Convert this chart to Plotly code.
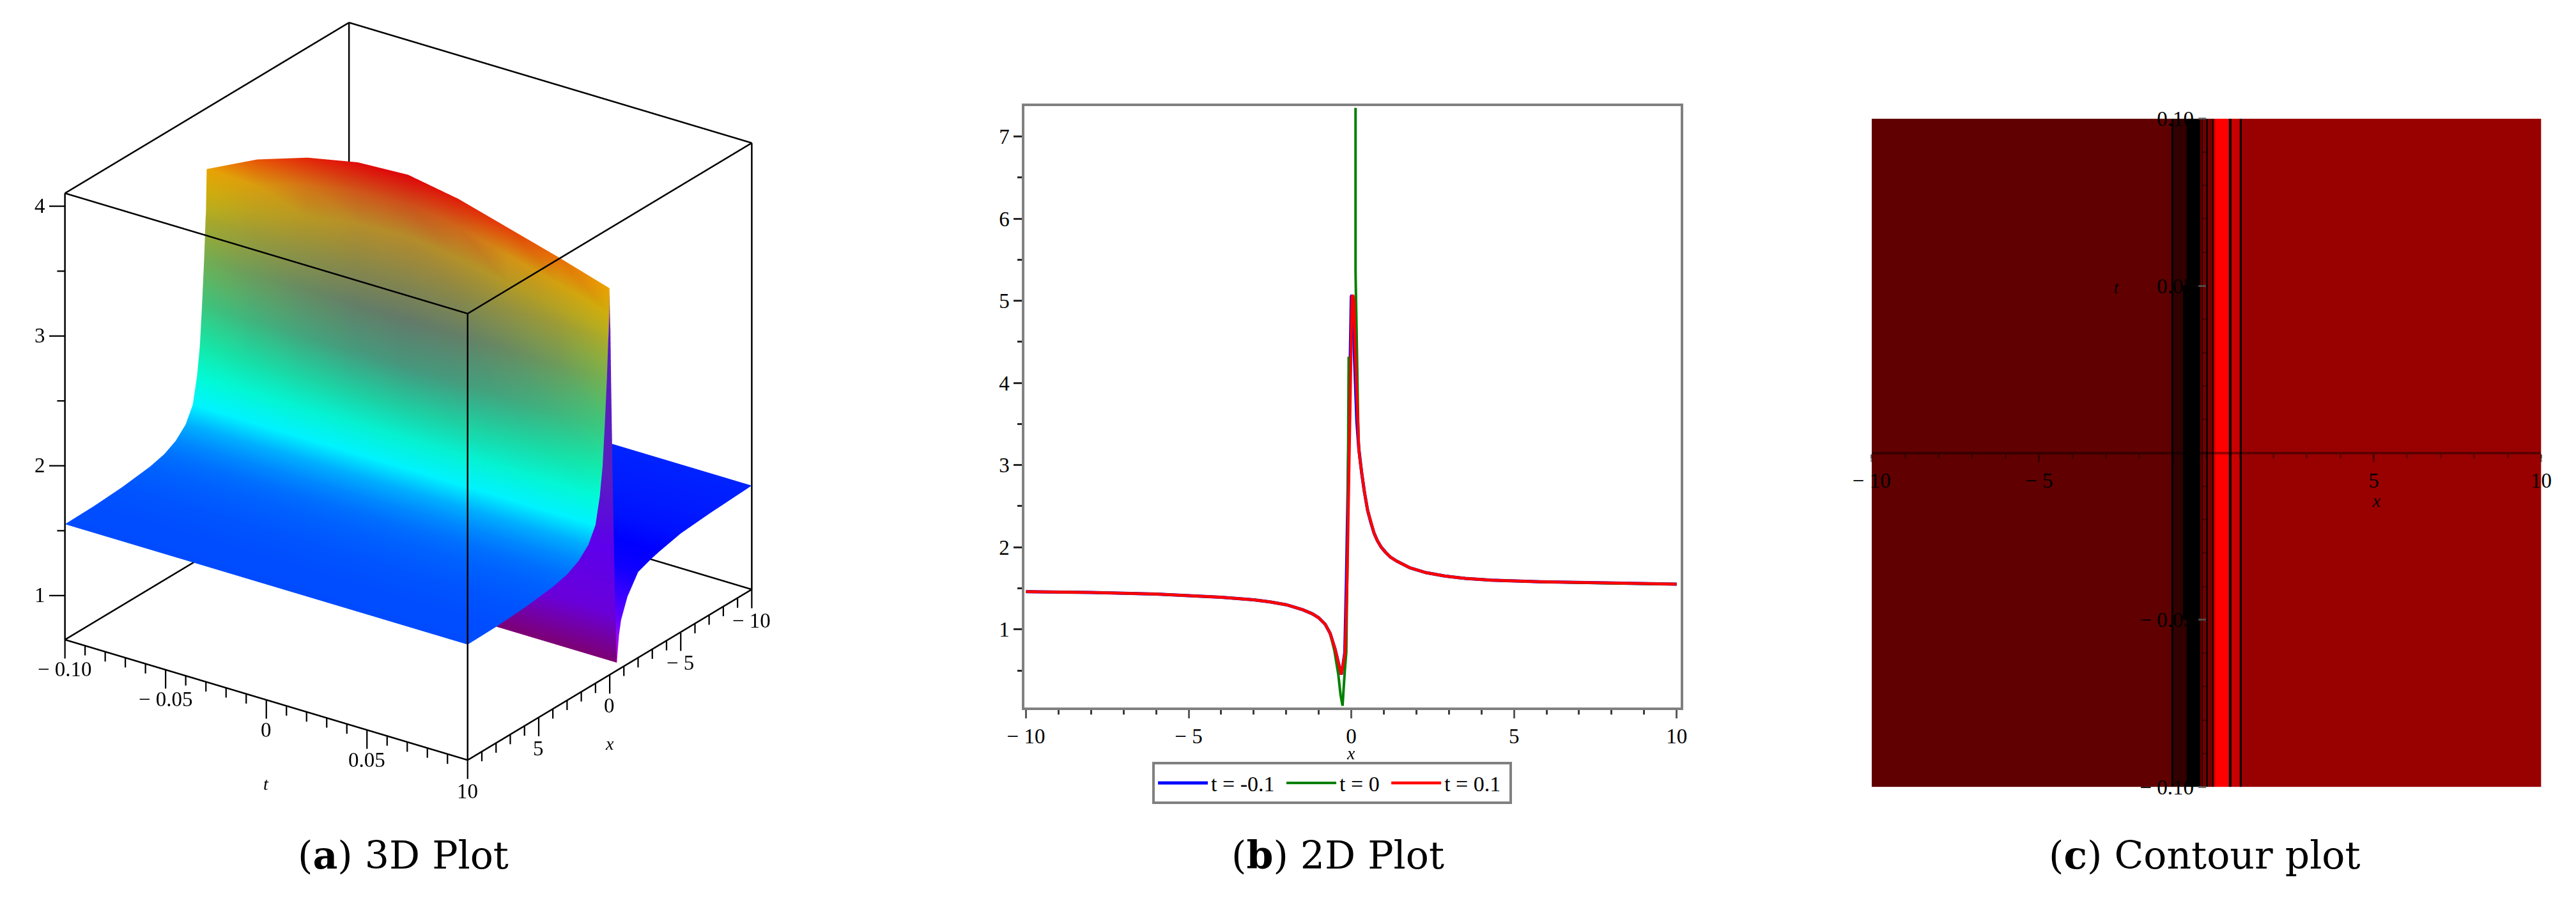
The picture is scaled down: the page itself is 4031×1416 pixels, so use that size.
import numpy as np
import plotly.graph_objects as go

W, H = 4031, 1416

# ---- panel a: surface ----
# x = -0.5 is listed twice: the valley colour differs on the two sides
surf_x_left = [-10, -7, -5, -3.5, -2.9, -2.0, -1.25, -0.8, -0.65, -0.5, -0.5, -0.4, -0.3, -0.2, -0.1, -0.05]
surf_z_left = [1.46, 1.44, 1.42, 1.38, 1.36, 1.32, 1.18, 1.03, 0.92, 0.72, 0.72, 1.1, 1.6, 2.2, 2.9, 3.3]
surf_x_right = [0.1, 0.2, 0.35, 0.5, 0.7, 1.0, 1.5, 2.2, 3, 4, 6, 8, 10]
surf_z_right = [3.25, 2.95, 2.6, 2.3, 2.08, 1.88, 1.76, 1.68, 1.63, 1.6, 1.57, 1.555, 1.55]
surf_t = [-0.1, -0.075, -0.05, -0.025, 0, 0.025, 0.05, 0.075, 0.1]
ridge_x = [0.02, 0.05, 0.075]
ridge_z = [3.63, 3.82, 3.95, 4.03, 4.05, 3.98, 3.87, 3.76, 3.64]
shoulder_z = [3.45, 3.62, 3.74, 3.81, 3.83, 3.77, 3.66, 3.56, 3.45]
foot_z = [3.3, 3.42, 3.5, 3.56, 3.58, 3.53, 3.45, 3.38, 3.3]

# greyish sheen on the wall: weight by column (x >= ridge) and by t row
haze_cols = [0.08, 0.22, 0.35, 0.5, 0.65, 0.5, 0.25, 0.08, 0, 0, 0, 0, 0, 0, 0, 0]
haze_rows = [0.35, 0.6, 0.8, 0.95, 1, 0.95, 0.8, 0.6, 0.3]
haze_rgb = (85, 80, 125)

x_lim = [-10, 10]
t_lim = [-0.1, 0.1]
z_lim = [0.66, 4.10]
x_major = [-10, -5, 0, 5, 10]
x_major_text = ["\u2212 10", "\u2212 5", "0", "5", "10"]
x_minor = [v for v in range(-10, 11) if v % 5 != 0]
t_major = [-0.1, -0.05, 0, 0.05]
t_major_text = ["\u2212 0.10", "\u2212 0.05", "0", "0.05"]
t_minor = [-0.09, -0.08, -0.07, -0.06, -0.04, -0.03, -0.02, -0.01, 0.01, 0.02, 0.03, 0.04, 0.06, 0.07, 0.08, 0.09]
z_major = [1, 2, 3, 4]
z_minor = [1.5, 2.5, 3.5]

# hue against height, as it shows on the upper side of the surface
hue_z = [0.66, 0.75, 1.0, 1.38, 1.55, 1.75, 1.9, 2.2, 2.7, 3.2, 3.5, 3.65, 3.85, 4.05]
hue_rgb = [(200, 0, 220), (225, 20, 240), (110, 0, 255), (0, 0, 255), (0, 75, 255),
           (0, 170, 255), (0, 255, 255), (0, 255, 190), (70, 215, 110), (180, 190, 30),
           (225, 180, 0), (240, 165, 0), (240, 70, 0), (235, 0, 0)]
# the stretch from valley to ridge is seen from below and is darker
under_z = [0.72, 1.0, 1.3, 1.7, 2.2, 3.3]
under_rgb = [(125, 0, 115), (105, 0, 200), (105, 0, 255), (90, 0, 230), (90, 30, 190), (90, 30, 190)]

# ---- panel b: curves ----
x_far_left = [-10, -8, -6, -5, -4, -3, -2.5, -2, -1.5, -1.2, -1, -0.8, -0.65]
y_far_left = [1.46, 1.45, 1.43, 1.41, 1.39, 1.36, 1.335, 1.30, 1.24, 1.19, 1.14, 1.06, 0.95]
x_far_right = [0.23, 0.27, 0.32, 0.4, 0.5, 0.6, 0.7, 0.8, 0.92, 1.05, 1.2, 1.4, 1.8, 2.3, 2.87, 3.5, 4.3, 5.8, 8, 10]
y_far_right = [3.2, 3.05, 2.9, 2.68, 2.45, 2.3, 2.17, 2.08, 2.0, 1.94, 1.88, 1.83, 1.75, 1.69, 1.65, 1.62, 1.6, 1.58, 1.56, 1.55]
x_plus_mid = [-0.5, -0.4, -0.31, -0.25, -0.19, -0.13, -0.08, -0.04, 0, 0.02, 0.05, 0.08, 0.12, 0.19]
y_plus_mid = [0.76, 0.6, 0.45, 0.58, 0.72, 1.6, 2.7, 3.53, 4.6, 5.05, 5.07, 5.0, 4.4, 3.53]
x_minus_mid = [-0.5, -0.4, -0.31, -0.25, -0.2, -0.15, -0.1, -0.06, -0.03, 0, 0.02, 0.05, 0.09, 0.17]
y_minus_mid = [0.76, 0.6, 0.45, 0.58, 0.72, 1.6, 2.7, 3.53, 4.6, 5.05, 5.07, 5.0, 4.4, 3.53]
x_zero_mid = [-0.52, -0.4, -0.33, -0.27, -0.2, -0.155, -0.12, -0.1, -0.08, None, 0.13, 0.13, 0.21]
y_zero_mid = [0.74, 0.45, 0.2, 0.07, 0.5, 0.72, 1.8, 3.0, 4.32, None, 7.35, 5.35, 3.53]
b_xticks = [-10, -5, 0, 5, 10]
b_xtext = ["\u2212 10", "\u2212 5", "0", "5", "10"]
b_yticks = [1, 2, 3, 4, 5, 6, 7]

# ---- panel c: contour bands, level of each band per t row ----
band_edges = [-10, -1.04, -0.98, -0.70, -0.585, -0.23, -0.19, -0.13, -0.11, 0, 0.04, 0.17, 0.21, 0.28, 0.68, 0.74, 1.0, 1.06, 10]
band_end_row = [2, 0, 1, 1, 0, 0, 2, 0, 3, 0, 3, 0, 5, 6, 0, 5, 0, 4]
band_mid_row = [2, 0, 1, 0, 0, 0, 2, 0, 3, 0, 3, 0, 5, 6, 0, 5, 0, 4]
band_t_edges = [-0.1, -0.085, -0.05, 0, 0.05, 0.085, 0.1]
band_levels = [0, 1, 2, 3, 4, 5, 6]
band_rgb = ["rgb(0,0,0)", "rgb(50,0,0)", "rgb(96,0,0)", "rgb(115,0,0)", "rgb(153,0,0)", "rgb(200,0,0)", "rgb(255,0,0)"]
c_xticks = [-10, -5, 5, 10]
c_xtext = ["\u2212 10", "\u2212 5", "5", "10"]
c_yticks = [-0.1, -0.05, 0.05, 0.1]
c_ytext = ["\u2212 0.10", "\u2212 0.05", "0.05", "0.10"]
caption_a = "(<b>a</b>) 3D Plot"
caption_b = "(<b>b</b>) 2D Plot"
caption_c = "(<b>c</b>) Contour plot"

SERIF = "Liberation Serif"
CAPTION = "DejaVu Serif"
fig = go.Figure()


def pick(z, zs, rgbs):
    return [float(np.interp(z, zs, [c[i] for c in rgbs])) for i in range(3)]


# surface as a mesh so each vertex can carry hue and sheen
surf_x = surf_x_left + ridge_x + surf_x_right
n_left = len(surf_x_left)
rows = [surf_z_left + [r, s, f] + surf_z_right for r, s, f in zip(ridge_z, shoulder_z, foot_z)]
vx, vy, vz, vc = [], [], [], []
for r, row in enumerate(rows):
    for c, z in enumerate(row):
        vx.append(surf_x[c])
        vy.append(surf_t[r])
        vz.append(z)
        if 10 <= c < n_left:
            col = pick(z, under_z, under_rgb)
        else:
            col = pick(z, hue_z, hue_rgb)
        if c >= n_left:
            a = haze_cols[c - n_left] * haze_rows[r]
            col = [(1 - a) * col[i] + a * haze_rgb[i] for i in range(3)]
        vc.append("rgb(%d,%d,%d)" % tuple(col))
ncol = len(surf_x)
tri_i, tri_j, tri_k = [], [], []
for r in range(len(rows) - 1):
    for c in range(ncol - 1):
        a = r * ncol + c
        tri_i += [a, a]
        tri_j += [a + 1, a + ncol + 1]
        tri_k += [a + ncol + 1, a + ncol]
fig.add_trace(go.Mesh3d(x=vx, y=vy, z=vz, i=tri_i, j=tri_j, k=tri_k, vertexcolor=vc, scene="scene",
                        flatshading=False, hoverinfo="skip", showscale=False,
                        lighting=dict(ambient=1.0, diffuse=0.0, specular=0.0, fresnel=0.0, roughness=1.0)))


def seg(a, b, out):
    for i in range(3):
        out[i] += [a[i], b[i], None]


# box edges
box = [[], [], []]
x0, x1 = x_lim
t0, t1 = t_lim
z0, z1 = z_lim
for z in z_lim:
    seg((x1, t0, z), (x1, t1, z), box)
    seg((x0, t0, z), (x0, t1, z), box)
    seg((x0, t0, z), (x1, t0, z), box)
    seg((x0, t1, z), (x1, t1, z), box)
for x in x_lim:
    for t in t_lim:
        seg((x, t, z0), (x, t, z1), box)
fig.add_trace(go.Scatter3d(x=box[0], y=box[1], z=box[2], mode="lines", scene="scene",
                           line=dict(color="black", width=5), hoverinfo="skip", showlegend=False))

# ticks: straight down on screen for t and x, straight left for z
major_drop, minor_drop = 0.145, 0.075
ticks = [[], [], []]
for t in t_major + [0.1]:
    seg((x1, t, z0), (x1, t, z0 - major_drop), ticks)
for t in t_minor:
    seg((x1, t, z0), (x1, t, z0 - minor_drop), ticks)
for x in x_major:
    seg((x, t1, z0), (x, t1, z0 - major_drop), ticks)
for x in x_minor:
    seg((x, t1, z0), (x, t1, z0 - minor_drop), ticks)
for z in z_major:
    seg((x1, t0, z), (x1 + 0.369, t0 - 0.0052, z), ticks)
for z in z_minor:
    seg((x1, t0, z), (x1 + 0.185, t0 - 0.0026, z), ticks)
fig.add_trace(go.Scatter3d(x=ticks[0], y=ticks[1], z=ticks[2], mode="lines", scene="scene",
                           line=dict(color="black", width=4.5), hoverinfo="skip", showlegend=False))

lab = dict(size=33, color="black", family=SERIF)
ital = dict(size=28, color="black", family=SERIF)
scene_notes = []
for t, s in zip(t_major, t_major_text):
    scene_notes.append(dict(x=x1, y=t, z=z0, text=s, showarrow=False, yshift=-47, font=lab))
for x, s in zip(x_major, x_major_text):
    scene_notes.append(dict(x=x, y=t1, z=z0, text=s, showarrow=False, yshift=-49, font=lab))
for z in z_major:
    scene_notes.append(dict(x=x1, y=t0, z=z, text=str(z), showarrow=False, xshift=-39, font=lab))
scene_notes.append(dict(x=x1, y=0, z=z0, text="<i>t</i>", showarrow=False, yshift=-132, font=ital))
scene_notes.append(dict(x=0, y=t1, z=z0, text="<i>x</i>", showarrow=False, yshift=-108, font=ital))

# 2D curves
fig.add_trace(go.Scatter(x=x_far_left + x_minus_mid + x_far_right, y=y_far_left + y_minus_mid + y_far_right,
                         mode="lines", name="t = -0.1\u00a0", xaxis="x", yaxis="y",
                         line=dict(color="rgb(0,0,255)", width=5)))
fig.add_trace(go.Scatter(x=x_far_left + x_zero_mid + x_far_right, y=y_far_left + y_zero_mid + y_far_right,
                         mode="lines", name="t = 0\u00a0", xaxis="x", yaxis="y",
                         line=dict(color="rgb(0,128,0)", width=4)))
fig.add_trace(go.Scatter(x=x_far_left + x_plus_mid + x_far_right, y=y_far_left + y_plus_mid + y_far_right,
                         mode="lines", name="t = 0.1\u00a0", xaxis="x", yaxis="y",
                         line=dict(color="rgb(255,0,0)", width=4.5)))

# contour bands
nlev = len(band_levels) - 1
band_scale = [[lev / nlev, c] for lev, c in zip(band_levels, band_rgb)]
band_z = [band_end_row, band_end_row, band_mid_row, band_mid_row, band_end_row, band_end_row]
fig.add_trace(go.Heatmap(x=band_edges, y=band_t_edges, z=band_z, zmin=0, zmax=nlev, colorscale=band_scale,
                         zsmooth=False, showscale=False, hoverinfo="skip", xaxis="x2", yaxis="y2"))


def fx(px):
    return px / W


def fy(py):
    return 1 - py / H


def note(px, py, text, font):
    return dict(x=fx(px), y=fy(py), xref="paper", yref="paper", text=text, showarrow=False,
                xanchor="center", yanchor="middle", font=font)


tick_font = dict(size=33, color="black", family=SERIF)
axis_gray = "rgb(128,128,128)"
cap_font = dict(size=60, color="black", family=CAPTION)
zoom3d = 1.28
layout = dict(
    width=W, height=H, margin=dict(l=0, r=0, t=0, b=0), paper_bgcolor="white", plot_bgcolor="white",
    showlegend=True,
    legend=dict(orientation="h", x=fx(1794), y=fy(1206), xanchor="left", yanchor="top",
                bordercolor=axis_gray, borderwidth=4, font=dict(size=34, color="black", family=SERIF),
                itemwidth=78, traceorder="normal", bgcolor="white"),
    scene=dict(
        domain=dict(x=[0, fx(1232)], y=[fy(1243), fy(7)]),
        aspectmode="manual", aspectratio=dict(x=1.04 * zoom3d, y=1.06 * zoom3d, z=1.0523 * zoom3d),
        camera=dict(eye=dict(x=0.740 * 1.5, y=0.522 * 1.5, z=0.4236 * 1.5), up=dict(x=0, y=0, z=1),
                    center=dict(x=0, y=0, z=0), projection=dict(type="orthographic")),
        xaxis=dict(range=[-10.4, 10.4], visible=False),
        yaxis=dict(range=[-0.106, 0.106], visible=False),
        zaxis=dict(range=[0.5, 4.12], visible=False),
        bgcolor="white", annotations=scene_notes,
    ),
    xaxis=dict(domain=[fx(1592), fx(2631)], range=[-10.04, 10.13], tickmode="array", tickvals=b_xticks,
               ticktext=b_xtext, ticks="outside", ticklen=13, tickwidth=3, tickcolor="rgb(90,90,90)",
               minor=dict(tickmode="linear", tick0=0, dtick=1, ticks="outside", ticklen=7, tickwidth=3,
                          tickcolor="rgb(60,60,60)", showgrid=False),
               showline=True, linecolor=axis_gray, linewidth=4, mirror=True, showgrid=False, zeroline=False,
               tickfont=tick_font, anchor="y"),
    yaxis=dict(domain=[fy(1118), fy(153)], range=[0.052, 7.37], tickmode="array", tickvals=b_yticks,
               ticks="outside", ticklen=13, tickwidth=3, tickcolor="rgb(40,40,40)",
               minor=dict(tickmode="linear", tick0=0, dtick=0.5, ticks="outside", ticklen=7, tickwidth=3,
                          tickcolor="rgb(40,40,40)", showgrid=False),
               showline=True, linecolor=axis_gray, linewidth=4, mirror=True, showgrid=False, zeroline=False,
               tickfont=tick_font, anchor="x"),
    xaxis2=dict(domain=[fx(2933), fx(3993)], range=[-10, 10], tickmode="array", tickvals=c_xticks,
                ticktext=c_xtext, ticks="outside", ticklen=12, tickwidth=3, tickcolor="rgba(0,0,0,0.35)",
                minor=dict(tickmode="linear", tick0=0, dtick=1, ticks="outside", ticklen=6, tickwidth=3,
                           tickcolor="rgba(0,0,0,0.35)", showgrid=False),
                showline=True, linecolor="rgba(0,0,0,0.4)", linewidth=4, showgrid=False, zeroline=False,
                tickfont=tick_font, anchor="free", position=fy(710)),
    yaxis2=dict(domain=[fy(1246), fy(173)], range=[-0.1, 0.1], tickmode="array", tickvals=c_yticks,
                ticktext=c_ytext, ticks="outside", ticklen=12, tickwidth=3, tickcolor="rgba(90,90,90,0.8)",
                minor=dict(tickmode="linear", tick0=0, dtick=0.01, ticks="outside", ticklen=6, tickwidth=2,
                           tickcolor="rgba(0,0,0,0.4)", showgrid=False),
                showline=True, linecolor="rgba(0,0,0,0.4)", linewidth=2, showgrid=False, zeroline=False,
                tickfont=tick_font, anchor="free", position=fx(3463)),
    annotations=[
        note(2109, 1192, "<i>x</i>", dict(size=28, color="black", family=SERIF)),
        note(3733, 787, "<i>x</i>", dict(size=28, color="black", family=SERIF)),
        note(3321, 444, "<i>t</i>", dict(size=28, color="black", family=SERIF)),
        note(608, 1355, caption_a, cap_font),
        note(2088, 1355, caption_b, cap_font),
        note(3460, 1355, caption_c, cap_font),
    ],
)
fig.update_layout(**layout)
fig.write_html("out.html", config={"displayModeBar": False}, post_script="document.body.style.margin='0';")
